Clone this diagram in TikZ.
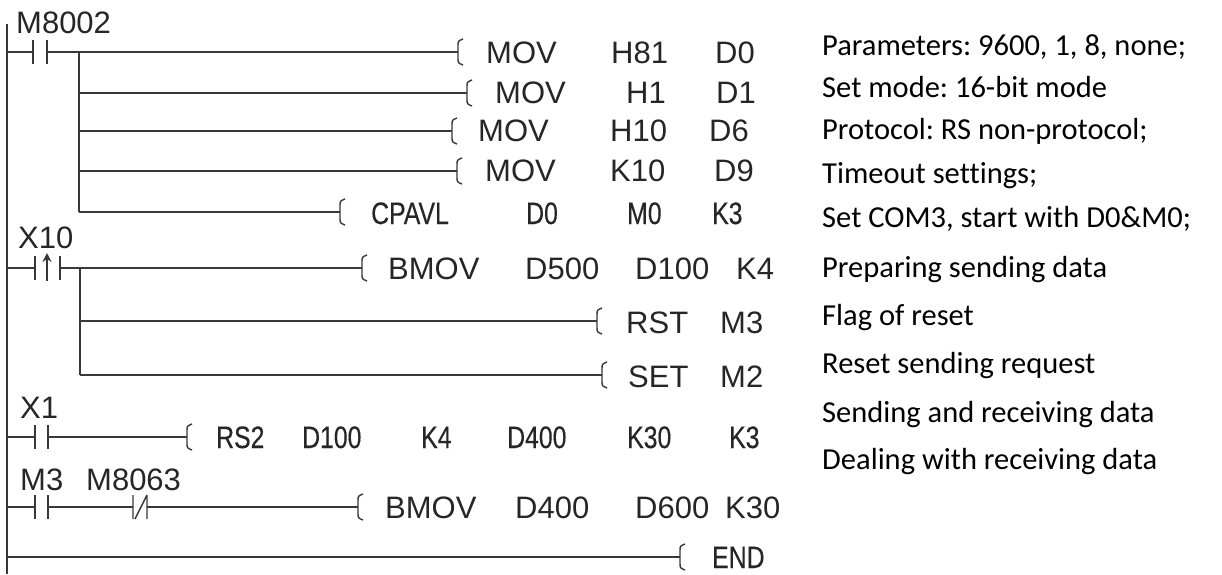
\documentclass[tikz,border=0pt]{standalone}
\usepackage{fontspec}
\usepackage{graphicx}
\usetikzlibrary{arrows.meta}
\setmainfont{Liberation Sans}
\newfontfamily\notefont[Ligatures=NoCommon]{Carlito}
\newfontfamily\narfont[FakeBold=0.35]{Liberation Sans}
\newcommand\nar[1]{\scalebox{0.8}[1]{#1}}
\frenchspacing
\tikzset{
	wire/.style={line width=1.4pt,draw=black!78},
	lad/.style={font=\fontsize{31}{31}\selectfont,text=black!85,inner sep=0pt,anchor=base west},
	ladn/.style={font=\narfont\fontsize{31}{31}\selectfont,text=black!85,inner sep=0pt,anchor=base west},
	note/.style={font=\notefont\fontsize{30.5}{30.5}\selectfont,inner sep=0pt,anchor=base west}
}
% open contact: plates at #1 and #2 on rung #3
\newcommand\nocontact[3]{\draw[wire] (#1,#3-12)--(#1,#3+12) (#2,#3-12)--(#2,#3+12);}
% instruction bracket at #1 on rung #2
\newcommand\instbr[2]{\draw[wire] (#1+5,#2-13) .. controls (#1,#2-11) .. (#1,#2-6)--(#1,#2+6) .. controls (#1,#2+11) .. (#1+5,#2+13);}
\begin{document}
\begin{tikzpicture}[x=1pt,y=-1pt,>={Stealth[length=9pt,width=9pt]}]
			\useasboundingbox (0,0) rectangle (1222,574);
			% power rail
			\draw[wire] (7,24)--(7,574);
			% rung 1
			\node[lad] (lm8002) at (16,33) {M8002};
			\nocontact{33}{47}{52}
			\draw[wire] (7,52)--(33,52) (47,52)--(458,52);
			\draw[wire] (79,52)--(79,212);
			\draw[wire] (79,93)--(467,93) (79,131)--(452,131) (79,171)--(457,171) (79,212)--(340,212);
			\instbr{458}{52} \instbr{467}{93} \instbr{452}{131} \instbr{457}{171} \instbr{340}{212}
			\node[lad] (mov1) at (486,63) {MOV};
			\node[lad] (h81) at (611,63) {H81};
			\node[lad] (d0a) at (715,63) {D0};
			\node[lad] (mov2) at (495,103) {MOV};
			\node[lad] (h1) at (626,103) {H1};
			\node[lad] (d1) at (716,103) {D1};
			\node[lad] (mov3) at (478,141) {MOV};
			\node[lad] (h10) at (610,141) {H10};
			\node[lad] (d6) at (709,141) {D6};
			\node[lad] (mov4) at (485,181) {MOV};
			\node[lad] (k10) at (610,181) {K10};
			\node[lad] (d9) at (714,181) {D9};
			\node[ladn] (cpavl) at (371,224) {\nar{CPAVL}};
			\node[ladn] (d0b) at (526,224) {\nar{D0}};
			\node[ladn] (m0) at (627,224) {\nar{M0}};
			\node[ladn] (k3a) at (712,224) {\nar{K3}};
			% rung 2
			\node[lad] (lx10) at (18,248) {X10};
			\nocontact{35}{60}{268}
			\draw[wire,->] (47,281)--(47,253);
			\draw[wire] (7,268)--(35,268) (60,268)--(362,268);
			\draw[wire] (80,268)--(80,375);
			\draw[wire] (80,321)--(597,321) (80,375)--(602,375);
			\instbr{362}{268} \instbr{597}{321} \instbr{602}{375}
			\node[lad] (bmov1) at (388,279) {BMOV};
			\node[lad] (d500) at (525,279) {D500};
			\node[lad] (d100a) at (635,279) {D100};
			\node[lad] (k4a) at (736,279) {K4};
			\node[lad] (rst) at (626,333) {RST};
			\node[lad] (m3a) at (720,333) {M3};
			\node[lad] (set) at (628,387) {SET};
			\node[lad] (m2) at (720,387) {M2};
			% rung 3
			\node[lad] (lx1) at (20,418) {X1};
			\nocontact{35}{48}{437}
			\draw[wire] (7,437)--(35,437) (48,437)--(187,437);
			\instbr{187}{437}
			\node[ladn] (rs2) at (216,448) {\nar{RS2}};
			\node[ladn] (d100b) at (302,448) {\nar{D100}};
			\node[ladn] (k4b) at (421,448) {\nar{K4}};
			\node[ladn] (d400a) at (507,448) {\nar{D400}};
			\node[ladn] (k30a) at (627,448) {\nar{K30}};
			\node[ladn] (k3b) at (729,448) {\nar{K3}};
			% rung 4
			\node[lad] (lm3) at (20,490) {M3};
			\node[lad] (lm8063) at (86,490) {M8063};
			\nocontact{35}{48}{507}
			\draw[wire] (133,495)--(133,519) (147,495)--(147,519) (135,519)--(147,495);
			\draw[wire] (7,507)--(35,507) (48,507)--(133,507) (147,507)--(358,507);
			\instbr{358}{507}
			\node[lad] (bmov2) at (385,518) {BMOV};
			\node[lad] (d400b) at (515,518) {D400};
			\node[lad] (d600) at (635,518) {D600};
			\node[lad] (k30b) at (725,518) {K30};
			% rung 5
			\draw[wire] (7,557)--(680,557);
			\instbr{680}{557}
			\node[ladn] (endi) at (712,568) {\nar{END}};
			% comments
			\node[note] (c1) at (822,55) {Parameters: 9600, 1, 8, none;};
			\node[note] (c2) at (822,97) {Set mode: 16-bit mode};
			\node[note] (c3) at (822,139) {Protocol: RS non-protocol;};
			\node[note] (c4) at (822,183) {Timeout settings;};
			\node[note] (c5) at (822,227) {Set COM3, start with D0\&M0;};
			\node[note] (c6) at (822,277) {Preparing sending data};
			\node[note] (c7) at (822,325) {Flag of reset};
			\node[note] (c8) at (822,373) {Reset sending request};
			\node[note] (c9) at (822,422) {Sending and receiving data};
			\node[note] (c10) at (822,469) {Dealing with receiving data};
		\end{tikzpicture}
\end{document}
